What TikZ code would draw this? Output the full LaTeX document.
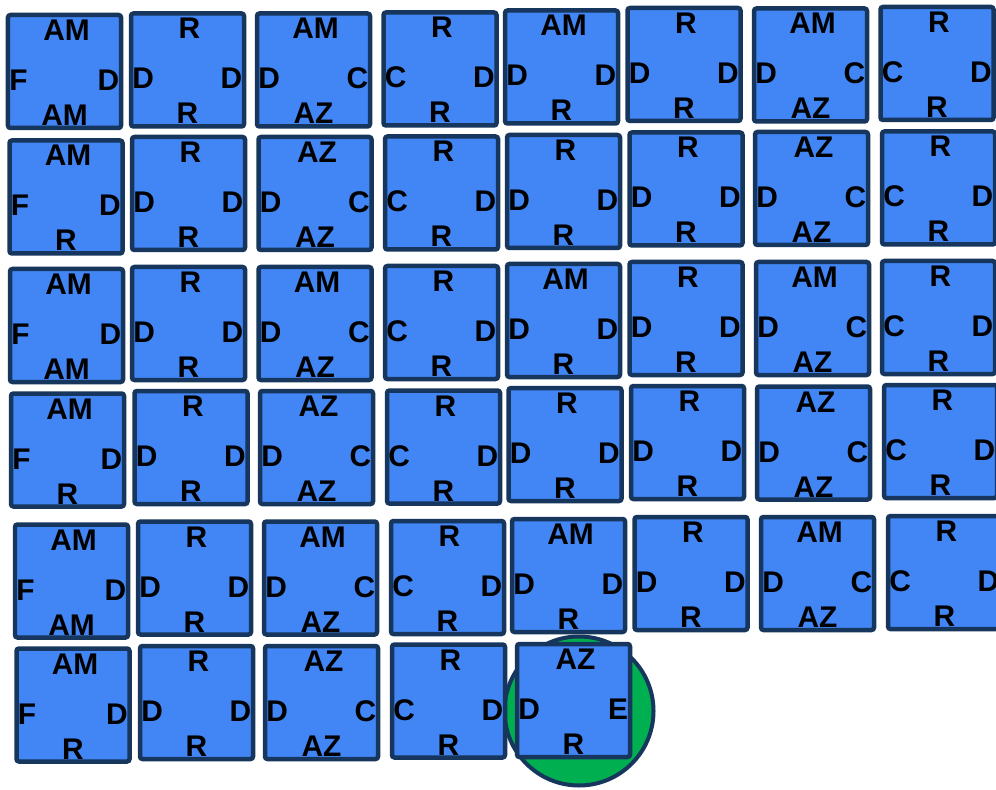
\documentclass[tikz,border=0pt]{standalone}
\usepackage{fontspec}
\setmainfont{Liberation Sans}
\usepackage{xcolor}
\definecolor{TileBlue}{HTML}{4285F4}
\definecolor{TileEdge}{HTML}{17365D}
\definecolor{TileGreen}{HTML}{00B050}
\tikzset{
  tilebox/.style={draw=TileEdge,fill=TileBlue,line width=0.09cm,rounded corners=0.05cm,minimum size=2.26cm,inner sep=0pt},
  edgelbl/.style={inner sep=0pt,font=\bfseries\fontsize{17}{20}\selectfont,text=black},
  goalring/.style={circle,draw=TileEdge,fill=TileGreen,line width=0.08cm,minimum size=2.98cm,inner sep=0pt}
}
% name, centre, top, left, right, bottom
\newcommand{\wangtile}[6]{%
  \node[tilebox] (#1) at (#2) {};
  \node[edgelbl,anchor=base] (#1n) at ([shift={(0.04cm,0.62cm)}]#1.center) {#3};
  \node[edgelbl,anchor=base west] (#1w) at ([shift={(-1.11cm,-0.38cm)}]#1.center) {#4};
  \node[edgelbl,anchor=base east] (#1e) at ([shift={(1.10cm,-0.38cm)}]#1.center) {#5};
  \node[edgelbl,anchor=base] (#1s) at ([shift={(0cm,-1.08cm)}]#1.center) {#6};
}
\begin{document}
\begin{tikzpicture}[x=1cm,y=1cm]
\path[use as bounding box] (0,0) rectangle (19.92,15.78);
\fill[white] (0,0) rectangle (19.92,15.78);
\node[goalring] (goal) at (11.58,1.56) {};
% row 1
\wangtile{t11}{1.29,14.35}{AM}{F}{D}{AM}
\wangtile{t12}{3.75,14.38}{R}{D}{D}{R}
\wangtile{t13}{6.27,14.38}{AM}{D}{C}{AZ}
\wangtile{t14}{8.80,14.40}{R}{C}{D}{R}
\wangtile{t15}{11.23,14.44}{AM}{D}{D}{R}
\wangtile{t16}{13.68,14.49}{R}{D}{D}{R}
\wangtile{t17}{16.21,14.48}{AM}{D}{C}{AZ}
\wangtile{t18}{18.74,14.51}{R}{C}{D}{R}
% row 2
\wangtile{t21}{1.32,11.84}{AM}{F}{D}{R}
\wangtile{t22}{3.77,11.91}{R}{D}{D}{R}
\wangtile{t23}{6.30,11.91}{AZ}{D}{C}{AZ}
\wangtile{t24}{8.83,11.92}{R}{C}{D}{R}
\wangtile{t25}{11.27,11.95}{R}{D}{D}{R}
\wangtile{t26}{13.72,12.00}{R}{D}{D}{R}
\wangtile{t27}{16.23,12.01}{AZ}{D}{C}{AZ}
\wangtile{t28}{18.77,12.02}{R}{C}{D}{R}
% row 3
\wangtile{t31}{1.33,9.27}{AM}{F}{D}{AM}
\wangtile{t32}{3.77,9.31}{R}{D}{D}{R}
\wangtile{t33}{6.30,9.31}{AM}{D}{C}{AZ}
\wangtile{t34}{8.83,9.33}{R}{C}{D}{R}
\wangtile{t35}{11.27,9.37}{AM}{D}{D}{R}
\wangtile{t36}{13.72,9.41}{R}{D}{D}{R}
\wangtile{t37}{16.25,9.41}{AM}{D}{C}{AZ}
\wangtile{t38}{18.77,9.43}{R}{C}{D}{R}
% row 4
\wangtile{t41}{1.35,6.78}{AM}{F}{D}{R}
\wangtile{t42}{3.82,6.83}{R}{D}{D}{R}
\wangtile{t43}{6.33,6.83}{AZ}{D}{C}{AZ}
\wangtile{t44}{8.87,6.84}{R}{C}{D}{R}
\wangtile{t45}{11.30,6.89}{R}{D}{D}{R}
\wangtile{t46}{13.75,6.93}{R}{D}{D}{R}
\wangtile{t47}{16.27,6.92}{AZ}{D}{C}{AZ}
\wangtile{t48}{18.81,6.95}{R}{C}{D}{R}
% row 5
\wangtile{t51}{1.43,4.16}{AM}{F}{D}{AM}
\wangtile{t52}{3.89,4.22}{R}{D}{D}{R}
\wangtile{t53}{6.41,4.22}{AM}{D}{C}{AZ}
\wangtile{t54}{8.95,4.23}{R}{C}{D}{R}
\wangtile{t55}{11.37,4.27}{AM}{D}{D}{R}
\wangtile{t56}{13.82,4.31}{R}{D}{D}{R}
\wangtile{t57}{16.35,4.31}{AM}{D}{C}{AZ}
\wangtile{t58}{18.89,4.33}{R}{C}{D}{R}
% row 6
\wangtile{t61}{1.46,1.68}{AM}{F}{D}{R}
\wangtile{t62}{3.93,1.73}{R}{D}{D}{R}
\wangtile{t63}{6.43,1.73}{AZ}{D}{C}{AZ}
\wangtile{t64}{8.97,1.76}{R}{C}{D}{R}
\wangtile{t65}{11.47,1.77}{AZ}{D}{E}{R}
\end{tikzpicture}
\end{document}
